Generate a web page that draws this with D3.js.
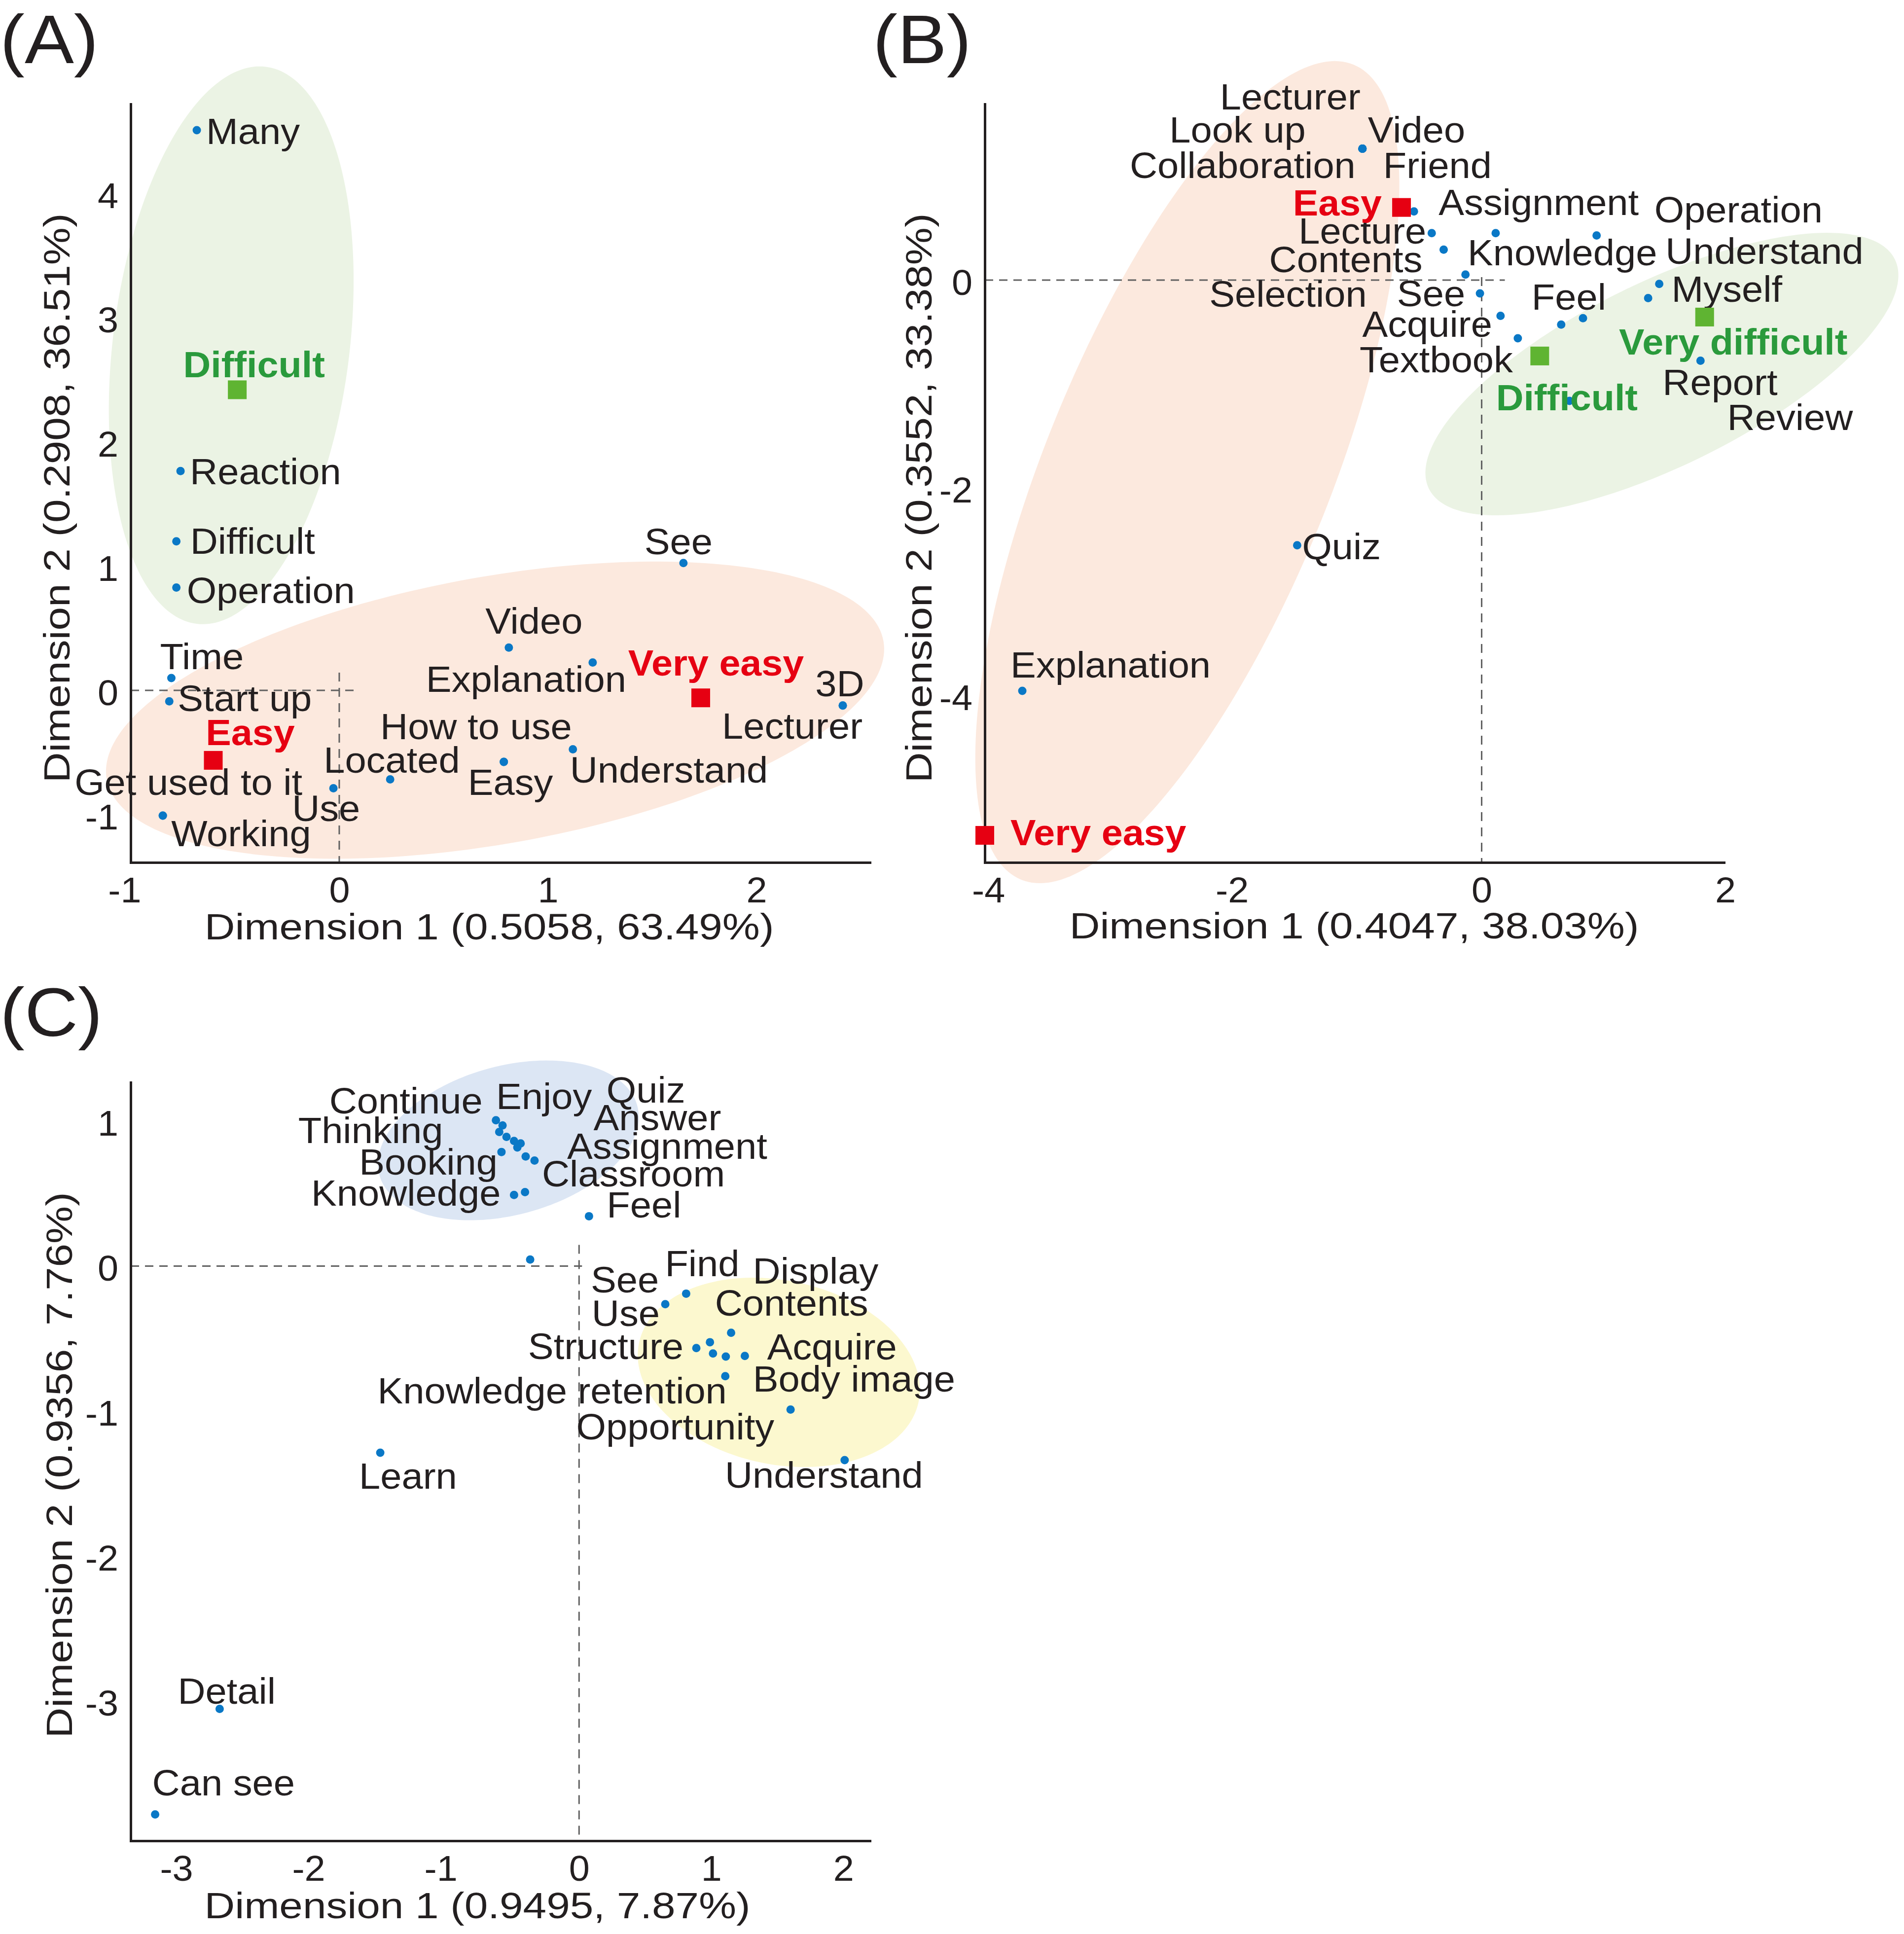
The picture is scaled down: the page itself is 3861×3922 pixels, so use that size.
<!DOCTYPE html>
<html><head><meta charset="utf-8">
<script src="https://cdn.jsdelivr.net/npm/d3@7"></script>
<style>html,body{margin:0;padding:0;background:#fff}</style>
</head><body>
<svg id="chart" width="3861" height="3922"></svg>
<script>
// ================= DATA =================
// Panel A
const aWords = ["Many","Reaction","Difficult","Operation","See","Video","Explanation","3D","Lecturer","Time","Start up","How to use","Easy","Understand","Located","Use","Get used to it","Working"];
const aDim1  = [-0.683,-0.761,-0.781,-0.781,1.650,0.813,1.215,2.414,2.414,-0.805,-0.815,0.789,0.789,1.120,0.244,-0.028,-0.846,-0.846];
const aDim2  = [4.510,1.766,1.200,0.828,1.025,0.345,0.225,-0.122,-0.122,0.100,-0.088,-0.575,-0.575,-0.474,-0.716,-0.788,-1.008,-1.008];
const aLevels    = ["Very easy","Easy","Difficult"];
const aLevelDim1 = [1.733,-0.604,-0.489];
const aLevelDim2 = [-0.060,-0.563,2.420];
const aLevelKind = ["easy","easy","difficult"];
const aRegions    = [[-0.518,2.778,0.1655,2.242,0.563,-0.117],[0.747,-0.159,1.862,0.556,0.112,-1.059]]; // centre, semi-axis u, semi-axis v (data units)
const aRegionKind = ["difficult","easy"];
const aXTicks = [-1,0,1,2];
const aYTicks = [-1,0,1,2,3,4];
const aXTitle = "Dimension 1 (0.5058, 63.49%)";
const aYTitle = "Dimension 2 (0.2908, 36.51%)";

// Panel B
const bWords = ["Lecturer","Look up","Video","Collaboration","Friend","Assignment","Lecture","Operation","Knowledge","Contents","Selection","See","Acquire","Textbook","Feel","","Understand","Myself","Report","Review","Quiz","Explanation"];
const bDim1  = [-0.979,-0.979,-0.979,-0.979,-0.979,-0.556,-0.410,0.944,0.115,-0.312,-0.133,-0.014,0.155,0.297,0.653,0.832,1.367,1.458,1.797,0.721,-1.515,-3.772];
const bDim2  = [1.266,1.266,1.266,1.266,1.266,0.662,0.453,0.430,0.453,0.294,0.054,-0.128,-0.344,-0.560,-0.429,-0.367,-0.173,-0.037,-0.777,-1.164,-2.554,-3.957];
const bLevels    = ["Very easy","Easy","Difficult","Very difficult"];
const bLevelDim1 = [-4.080,-0.658,0.477,1.831];
const bLevelDim2 = [-5.349,0.700,-0.731,-0.356];
const bLevelKind = ["easy","easy","difficult","difficult"];
const bRegions    = [[-2.417,-1.850,1.364,3.926,1.082,-0.517],[1.480,-0.905,1.913,1.105,0.334,-0.794]];
const bRegionKind = ["easy","difficult"];
const bXTicks = [-4,-2,0,2];
const bYTicks = [-4,-2,0];
const bXTitle = "Dimension 1 (0.4047, 38.03%)";
const bYTitle = "Dimension 2 (0.3552, 33.38%)";

// Panel C
const cWords = ["Continue","Enjoy","Quiz","Thinking","Answer","Assignment","Booking","Classroom","Knowledge","","","","Feel","","Find","See","Use","Display","Contents","Structure","Acquire","Knowledge retention","Body image","Opportunity","Understand","Learn","Detail","Can see"];
const cDim1  = [-0.629,-0.579,-0.442,-0.604,-0.492,-0.404,-0.587,-0.337,-0.492,-0.549,-0.467,-0.409,0.075,-0.370,0.810,0.652,1.013,1.150,0.990,0.887,1.254,1.110,1.106,1.600,2.009,-1.504,-2.719,-3.207];
const cDim2  = [1.006,0.970,0.846,0.925,0.863,0.756,0.787,0.728,0.491,0.891,0.818,0.510,0.344,0.045,-0.190,-0.263,-0.603,-0.460,-0.525,-0.565,-0.620,-0.624,-0.759,-0.990,-1.338,-1.287,-3.054,-3.782];
const cRegions    = [[-0.535,0.867,0.975,0.240,0.148,-0.496],[1.511,-0.733,1.057,-0.205,-0.145,-0.620]];
const cRegionKind = ["cluster1","cluster2"];
const cXTicks = [-3,-2,-1,0,1,2];
const cYTicks = [-3,-2,-1,0,1];
const cXTitle = "Dimension 1 (0.9495, 7.87%)";
const cYTitle = "Dimension 2 (0.9356, 7.76%)";

// ================= LAYOUT (label nudges in px: dx, dy(baseline), anchor) =================
const aLabelLayout = [[19,28,"start"],[19,27,"start"],[28,25,"start"],[21,32,"start"],[-10,-18,"middle"],[51,-28,"middle"],[68,60,"end"],[-6,-19,"middle"],[40,67,"end"],[-23,-18,"start"],[17,20,"start"],[138,-46,"end"],[-73,67,"start"],[-6,68,"start"],[-135,-13,"start"],[-84,66,"start"],[-179,-42,"start"],[17,62,"start"]];
const aLevelLayout = [[31,-45,"middle"],[75,-31,"middle"],[34,-25,"middle"]];
const bLabelLayout = [[-4,-80,"end"],[-115,-13,"end"],[11,-13,"start"],[-14,59,"end"],[42,59,"start"],[50,7,"start"],[-11,21,"end"],[117,-27,"start"],[-57,65,"start"],[-43,46,"end"],[-200,65,"end"],[-30,26,"end"],[-17,43,"end"],[-10,69,"end"],[-60,-30,"start"],null,[35,-69,"start"],[25,36,"start"],[-77,69,"start"],[320,59,"start"],[10,28,"start"],[-24,-27,"start"]];
const bLevelLayout = [[52,20,"start"],[-40,16,"end"],[55,110,"middle"],[58,76,"middle"]];
const cLabelLayout = [[-27,-14,"end"],[-13,-33,"start"],[174,-83,"start"],[-114,22,"end"],[161,-22,"start"],[84,5,"start"],[-8,46,"end"],[15,53,"start"],[-27,22,"end"],null,null,null,[36,3,"start"],null,[-43,-35,"start"],[-151,-24,"start"],[-246,-56,"start"],[44,-100,"start"],[10,-54,"start"],[-26,22,"end"],[45,7,"start"],[2,95,"end"],[56,31,"start"],[-33,60,"end"],[-42,56,"middle"],[-43,73,"start"],[-85,-10,"start"],[-6,-38,"start"]];

const REGION_FILL = {easy:"#fce9de", difficult:"#ebf3e4", cluster1:"#dce6f4", cluster2:"#fcf8cf"};
const LEVEL_SQUARE = {easy:"#e60012", difficult:"#5fb432"};
const LEVEL_TEXT = {easy:"#e60012", difficult:"#2a9a3c"};
const DOT = "#0a78c6";
const INK = "#231f20";
const FONT = "'Liberation Sans', Arial, Helvetica, sans-serif";
const LABEL_SIZE = 74, LABEL_SX = 1.05;

const panels = [
  {tag:"(A)", tagX:0, tagY:128, left:265, right:1764, top:211, bottom:1749,
   xDomain:[-1,2.544], yDomain:[-1.385,4.72], xTicks:aXTicks, yTicks:aYTicks,
   xTitle:aXTitle, yTitle:aYTitle, xTitleX:992, xTitleY:1905, yTitleX:141, yTitleY:1010,
   dashOverX:40, dashOverY:36,
   words:aWords, d1:aDim1, d2:aDim2, layout:aLabelLayout,
   levels:aLevels, l1:aLevelDim1, l2:aLevelDim2, lkind:aLevelKind, llayout:aLevelLayout,
   regions:aRegions, rkind:aRegionKind},
  {tag:"(B)", tagX:1770, tagY:128, left:1997, right:3496, top:211, bottom:1749,
   xDomain:[-4.08,1.99], yDomain:[-5.61,1.696], xTicks:bXTicks, yTicks:bYTicks,
   xTitle:bXTitle, yTitle:bYTitle, xTitleX:2746, xTitleY:1903, yTitleX:1889, yTitleY:1010,
   dashOverX:47, dashOverY:6,
   words:bWords, d1:bDim1, d2:bDim2, layout:bLabelLayout,
   levels:bLevels, l1:bLevelDim1, l2:bLevelDim2, lkind:bLevelKind, llayout:bLevelLayout,
   regions:bRegions, rkind:bRegionKind},
  {tag:"(C)", tagX:0, tagY:2101, left:265, right:1764, top:2195, bottom:3733,
   xDomain:[-3.392,2.2], yDomain:[-3.964,1.267], xTicks:cXTicks, yTicks:cYTicks,
   xTitle:cXTitle, yTitle:cYTitle, xTitleX:968, xTitleY:3890, yTitleX:146, yTitleY:2971,
   dashOverX:6, dashOverY:43,
   words:cWords, d1:cDim1, d2:cDim2, layout:cLabelLayout,
   levels:[], l1:[], l2:[], lkind:[], llayout:[],
   regions:cRegions, rkind:cRegionKind}
];

// ================= DRAW =================
const svg = d3.select("#chart");
svg.append("rect").attr("width",3861).attr("height",3922).attr("fill","#fff");

function addText(g, str, x, y, o) {
  o = o || {};
  return g.append("text")
    .attr("transform", `translate(${x},${y})` + (o.rotate ? ` rotate(${o.rotate})` : "") + ` scale(${o.sx ?? LABEL_SX},1)`)
    .attr("text-anchor", o.anchor || "start")
    .attr("font-family", FONT)
    .attr("font-size", o.size || LABEL_SIZE)
    .attr("font-weight", o.weight || "normal")
    .attr("fill", o.fill || INK)
    .text(str);
}

panels.forEach(p => {
  const g = svg.append("g");
  const xs = d3.scaleLinear().domain(p.xDomain).range([p.left, p.right]);
  const ys = d3.scaleLinear().domain(p.yDomain).range([p.bottom, p.top]);

  // confidence regions
  const line = d3.line().curve(d3.curveLinearClosed);
  p.regions.forEach((r, i) => {
    const pts = d3.range(240).map(k => {
      const t = k / 240 * 2 * Math.PI;
      return [xs(r[0] + r[2]*Math.cos(t) + r[4]*Math.sin(t)),
              ys(r[1] + r[3]*Math.cos(t) + r[5]*Math.sin(t))];
    });
    g.append("path").attr("d", line(pts)).attr("fill", REGION_FILL[p.rkind[i]]).attr("stroke","none");
  });

  // dashed origin lines
  g.append("line").attr("x1", xs(p.xDomain[0])).attr("x2", xs(0) + p.dashOverX)
    .attr("y1", ys(0)).attr("y2", ys(0))
    .attr("stroke","#606060").attr("stroke-width",3).attr("stroke-dasharray","17,12");
  g.append("line").attr("x1", xs(0)).attr("x2", xs(0))
    .attr("y1", ys(0) - p.dashOverY).attr("y2", ys(p.yDomain[0]))
    .attr("stroke","#606060").attr("stroke-width",3).attr("stroke-dasharray","18,13");

  // axes
  const tickSize = 72, tickSX = 1.05;
  const digitHalf = 0.556 * tickSize * tickSX / 2;
  const gx = g.append("g").attr("transform", `translate(0,${p.bottom})`)
    .call(d3.axisBottom(xs).tickValues(p.xTicks).tickSize(0).tickSizeOuter(0).tickFormat(d => String(d)));
  gx.select(".domain").attr("stroke", INK).attr("stroke-width", 5).attr("stroke-linecap","square");
  gx.selectAll(".tick text").each(function(d) {
    const neg = d < 0;
    d3.select(this).attr("x", null).attr("y", null).attr("dy", null)
      .attr("transform", `translate(${neg ? digitHalf : 0},81) scale(${tickSX},1)`)
      .attr("text-anchor", neg ? "end" : "middle")
      .attr("font-family", FONT).attr("font-size", tickSize).attr("fill", INK);
  });
  const gy = g.append("g").attr("transform", `translate(${p.left},0)`)
    .call(d3.axisLeft(ys).tickValues(p.yTicks).tickSize(0).tickSizeOuter(0).tickFormat(d => String(d)));
  gy.select(".domain").attr("stroke", INK).attr("stroke-width", 5).attr("stroke-linecap","square");
  gy.selectAll(".tick text").each(function() {
    d3.select(this).attr("x", null).attr("y", null).attr("dy", null)
      .attr("transform", `translate(-25,29) scale(${tickSX},1)`)
      .attr("text-anchor", "end")
      .attr("font-family", FONT).attr("font-size", tickSize).attr("fill", INK);
  });

  // axis titles & panel tag
  addText(g, p.xTitle, p.xTitleX, p.xTitleY, {anchor:"middle", size:75, sx:1.14});
  addText(g, p.yTitle, p.yTitleX, p.yTitleY, {anchor:"middle", size:75, sx:1.14, rotate:-90});
  addText(g, p.tag, p.tagX, p.tagY, {size:140, sx:1.07});

  // word points
  p.words.forEach((w, i) => {
    g.append("circle").attr("cx", xs(p.d1[i])).attr("cy", ys(p.d2[i])).attr("r", 8.5).attr("fill", DOT);
  });
  p.words.forEach((w, i) => {
    const L = p.layout[i];
    if (!w || !L) return;
    addText(g, w, xs(p.d1[i]) + L[0], ys(p.d2[i]) + L[1], {anchor:L[2]});
  });

  // level markers
  p.levels.forEach((lv, i) => {
    const cx = xs(p.l1[i]), cy = ys(p.l2[i]);
    g.append("rect").attr("x", cx - 19).attr("y", cy - 19).attr("width", 38).attr("height", 38)
      .attr("fill", LEVEL_SQUARE[p.lkind[i]]);
    const L = p.llayout[i];
    addText(g, lv, cx + L[0], cy + L[1], {anchor:L[2], weight:"bold", size:75, sx:1.03, fill:LEVEL_TEXT[p.lkind[i]]});
  });
});
</script>
</body></html>
